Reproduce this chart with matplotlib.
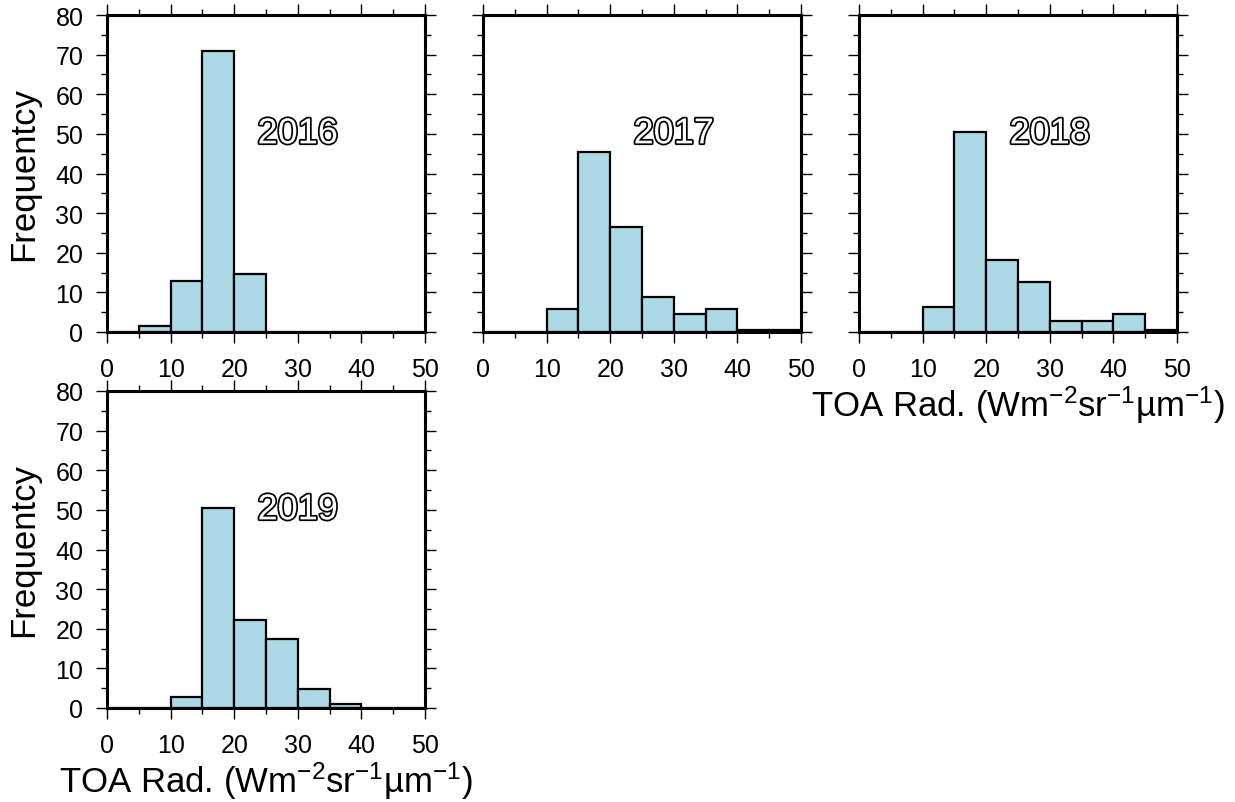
import numpy as np
import matplotlib
matplotlib.use("Agg")
import matplotlib.pyplot as plt
import matplotlib.patheffects as pe
from matplotlib.ticker import MultipleLocator

plt.rcParams['font.family'] = ['Liberation Sans', 'DejaVu Sans']
plt.rcParams['mathtext.fontset'] = 'custom'
plt.rcParams['mathtext.rm'] = 'Liberation Sans'
plt.rcParams['mathtext.it'] = 'Liberation Sans'
plt.rcParams['mathtext.bf'] = 'Liberation Sans'

# histogram bins (TOA radiance) and frequency per bin
bin_edges = np.arange(0, 55, 5)
years = ['2016', '2017', '2018', '2019']
freq_2016 = [0, 1.5, 12.8, 71.0, 14.6, 0, 0, 0, 0, 0]
freq_2017 = [0, 0, 5.7, 45.5, 26.4, 8.8, 4.5, 5.7, 0.5, 0.5]
freq_2018 = [0, 0, 6.4, 50.4, 18.1, 12.6, 2.7, 2.7, 4.5, 0.4]
freq_2019 = [0, 0, 2.9, 50.5, 22.3, 17.5, 4.9, 1.0, 0, 0]
freqs = [freq_2016, freq_2017, freq_2018, freq_2019]

W, H = 1235, 803
fig = plt.figure(figsize=(W / 100, H / 100), dpi=100)

# panel boxes in pixels: left, top, right, bottom
boxes = [(107, 16, 425, 333), (483, 16, 801, 333),
         (859, 16, 1177, 333), (107, 392, 425, 709)]
show_ylab = [True, False, False, True]
show_xlab = [False, False, True, True]

xlabel = r'TOA Rad. (Wm$^{-2}$sr$^{-1}$µm$^{-1}$)'

for i, (yr, fr) in enumerate(zip(years, freqs)):
    l, t, r, b = boxes[i]
    ax = fig.add_axes([l / W, 1 - b / H, (r - l) / W, (b - t) / H])
    ax.bar(bin_edges[:-1], fr, width=5, align='edge', color='#add8e6',
           edgecolor='black', linewidth=1.6, zorder=2)
    ax.set_xlim(0, 50)
    ax.set_ylim(0, 80)
    ax.xaxis.set_major_locator(MultipleLocator(10))
    ax.xaxis.set_minor_locator(MultipleLocator(5))
    ax.yaxis.set_major_locator(MultipleLocator(10))
    ax.yaxis.set_minor_locator(MultipleLocator(5))
    ax.tick_params(which='both', direction='out', top=True, right=True,
                   width=1.0, labelsize=18)
    ax.tick_params(which='major', length=8)
    ax.tick_params(which='minor', length=4)
    ax.tick_params(axis='y', which='major', pad=9)
    ax.tick_params(axis='x', which='major', pad=10)
    if not show_ylab[i]:
        ax.set_yticklabels([])
    else:
        ax.set_ylabel('Frequentcy', fontsize=25, labelpad=11)
    if show_xlab[i]:
        ax.set_xlabel(xlabel, fontsize=25, labelpad=2)
    for s in ax.spines.values():
        s.set_linewidth(2.2)
        s.set_zorder(5)
    ax.text(30, 50, yr, ha='center', va='center', fontsize=26, color='white',
            zorder=6,
            path_effects=[pe.withStroke(linewidth=2.5, foreground='black')])

fig.savefig('out.png', dpi=100)
